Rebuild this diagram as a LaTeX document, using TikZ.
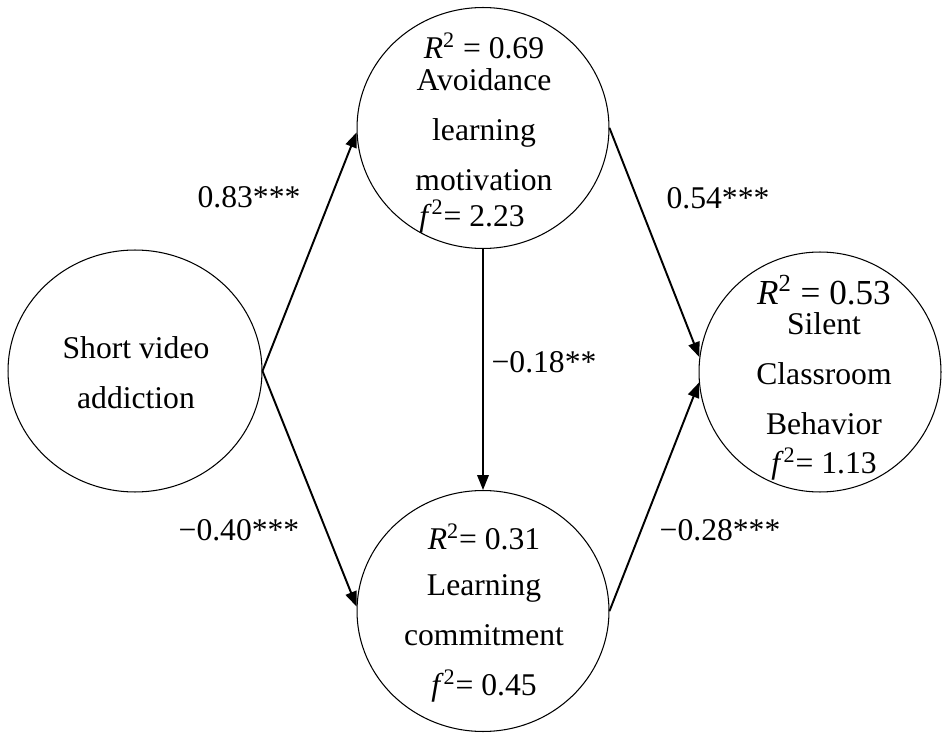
\documentclass[tikz,border=0pt]{standalone}
\usepackage{fontspec}
\setmainfont{Liberation Serif}
\usetikzlibrary{arrows.meta,shapes.geometric}
\tikzset{
  >={Triangle[length=3mm,width=2.3mm]},
  var/.style={draw=black,ellipse,line width=0.6pt,inner sep=0pt,minimum width=5.04cm,minimum height=4.82cm},
  vtxt/.style={align=center,inner sep=0pt,font=\fontsize{18}{28.45}\selectfont},
  coef/.style={inner sep=0pt,font=\fontsize{18}{22}\selectfont},
  arr/.style={->,draw=black,line width=1.1pt},
}
\newcommand{\rsq}{\textit{R}\textsuperscript{2}}
\newcommand{\fsq}{\textit{f}\textsuperscript{2}}

\begin{document}
\begin{tikzpicture}[x=0.02cm,y=-0.02cm]
\useasboundingbox (0,0) rectangle (947,733);
% latent variables
\node[var,minimum width=5.08cm,minimum height=4.84cm] (sva) at (135,371) {};
\node[var] (alm) at (483,128) {};
\node[var] (lc) at (483,611) {};
\node[var,minimum width=4.84cm,minimum height=4.8cm] (scb) at (820,372) {};
% texts inside
\node[vtxt] (svat) at (136,373) {Short video\\addiction};
\node[vtxt] (almt) at (484,133) {\rsq{} = 0.69\\[-10.2pt]Avoidance\\learning\\motivation\\[-8.5pt]\fsq= 2.23\hspace*{0.48cm}};
\node[vtxt] (lct) at (484,613) {\rsq= 0.31\\[-2pt]Learning\\commitment\\\fsq= 0.45};
\node[vtxt] (scbt) at (824,378) {{\fontsize{20}{24}\selectfont\rsq{} = 0.53}\\[-11.4pt]Silent\\Classroom\\Behavior\\[-6.3pt]\fsq= 1.13};
% paths
\draw[arr] (sva.east) -- (alm.182);
\draw[arr] (sva.east) -- (lc.178);
\draw[arr] (alm.south) -- (lc.north);
\draw[arr] (alm.east) -- (scb.173);
\draw[arr] (lc.east) -- (scb.185);
% coefficients
\node[coef] (c1) at (249,197) {0.83***};
\node[coef] (c2) at (239,530) {−0.40***};
\node[coef] (c3) at (544,362) {−0.18**};
\node[coef] (c4) at (718,198) {0.54***};
\node[coef] (c5) at (720,530) {−0.28***};
\end{tikzpicture}
\end{document}
